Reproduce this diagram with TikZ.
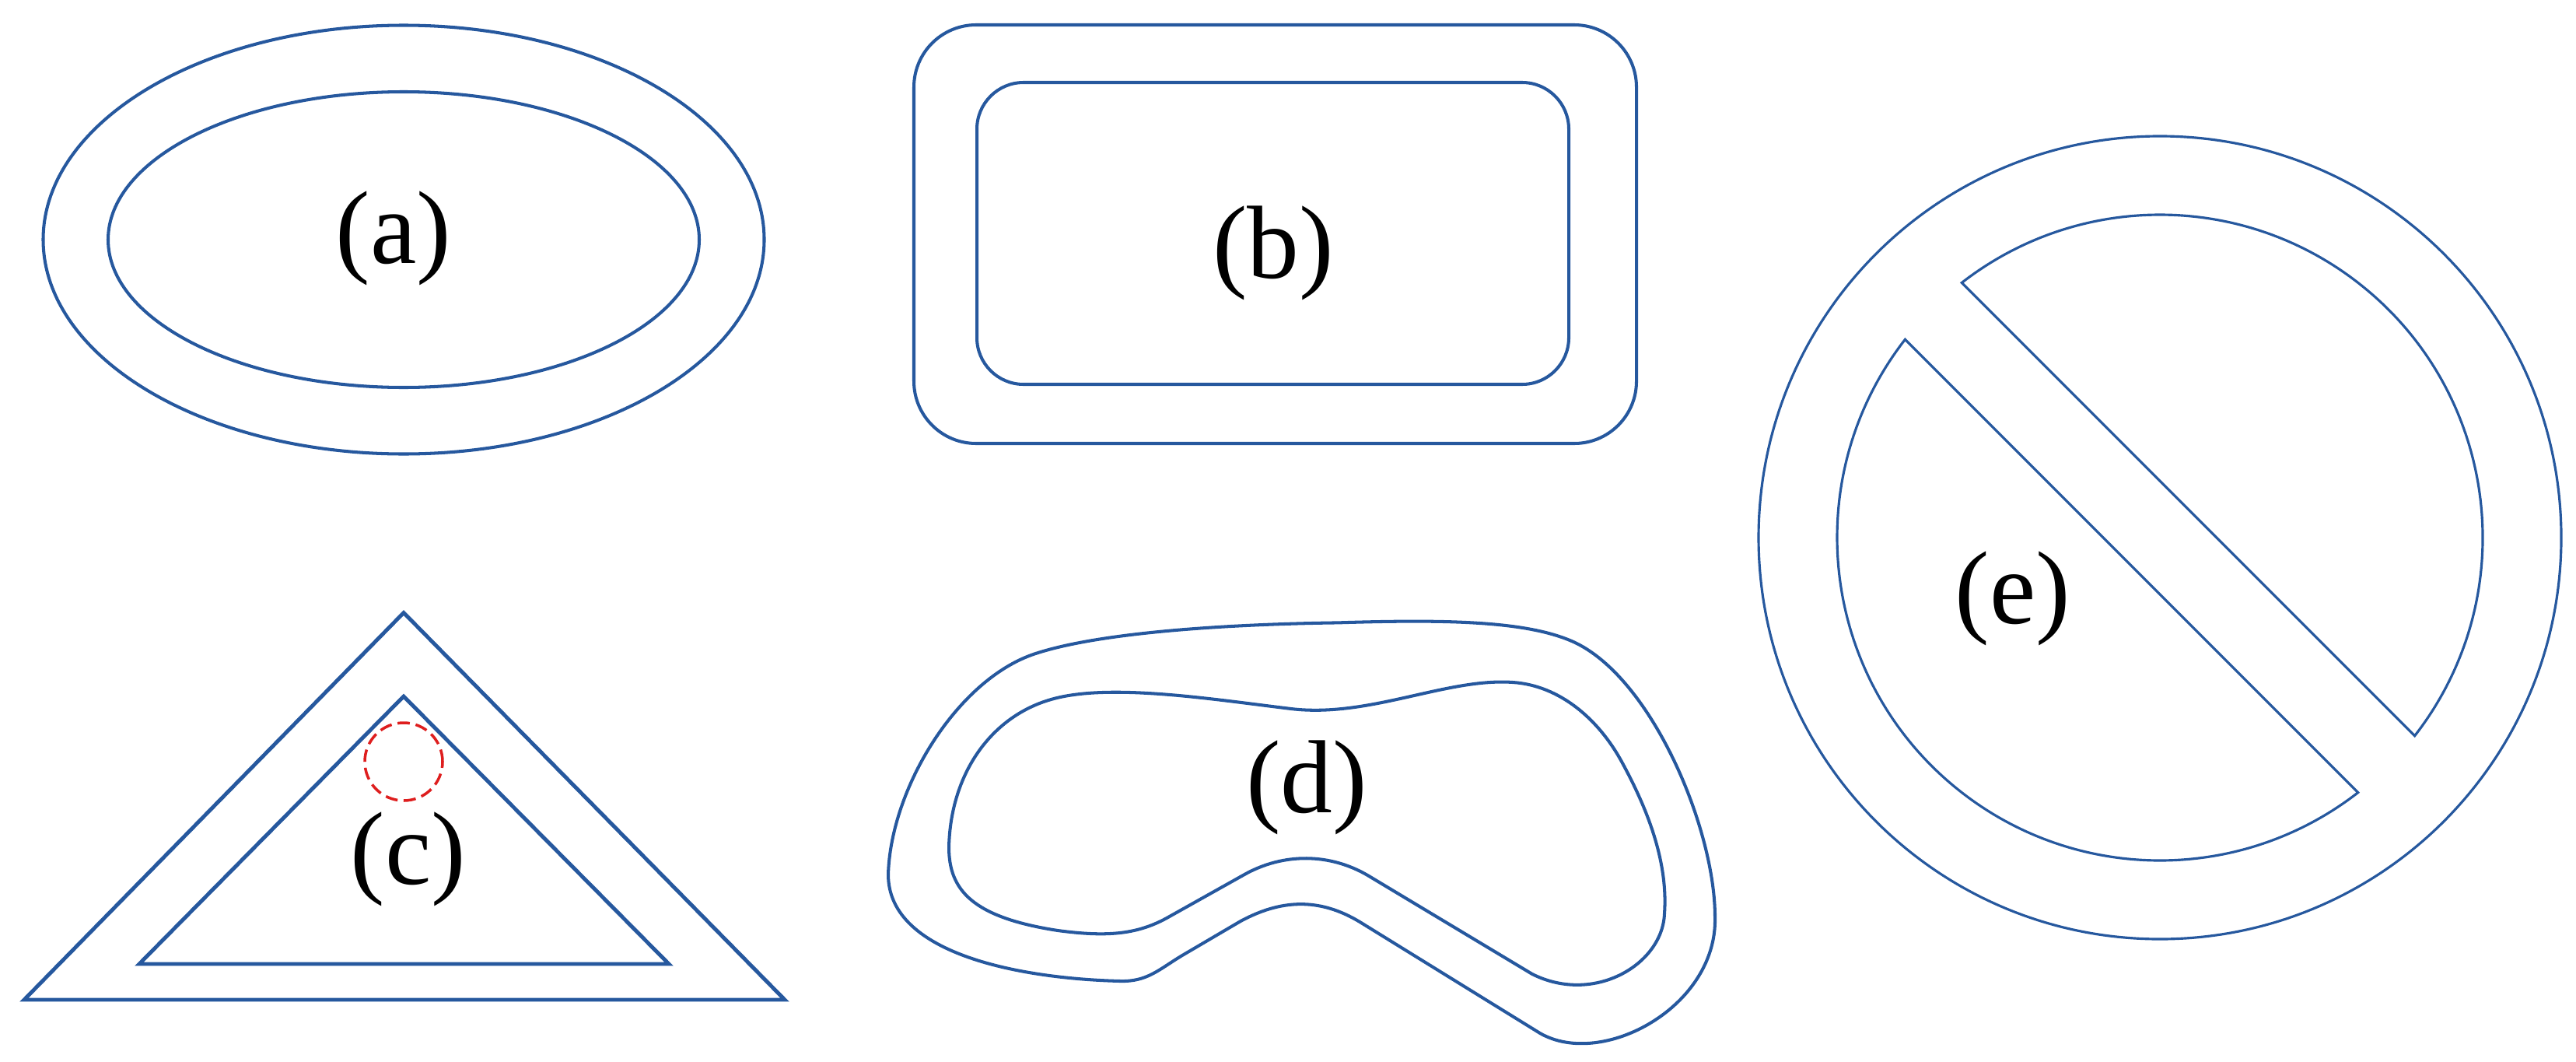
\documentclass[tikz,border=0pt]{standalone}
\usepackage{fontspec}
\setmainfont{Liberation Serif}
\usepackage{xcolor}
\usepackage{tikz}
\usetikzlibrary{positioning,calc}

\definecolor{contour}{RGB}{38,88,158}
\definecolor{rougepoint}{RGB}{222,30,30}

\begin{document}
\begin{tikzpicture}[
    trait/.style={draw=contour, line width=1.15pt, line join=round},
    traitfin/.style={draw=contour, line width=0.9pt},
    etiq/.style={font=\fontsize{38}{40}\selectfont, inner sep=0pt}
  ]
  \useasboundingbox (0,0) rectangle (33.12,13.64);

  % Forme (a) : deux ellipses
  \coordinate (ca) at (5.19,10.56);
  \draw[trait] (ca) ellipse[x radius=4.635, y radius=2.755];
  \draw[trait] (ca) ellipse[x radius=3.80, y radius=1.90];
  \node[etiq] (la) at (5.06,10.58) {(a)};

  % Forme (b) : rectangles arrondis
  \draw[trait, rounded corners=0.8cm] (11.75,7.94) rectangle (21.04,13.32);
  \draw[trait, rounded corners=0.6cm] (12.56,8.70) rectangle (20.17,12.58);
  \node[etiq] (lb) at (16.37,10.39) {(b)};

  % Forme (c) : triangles et cercle en pointilles
  \draw[trait, line width=1.4pt, line join=miter] (5.19,5.765) -- (10.09,0.79) -- (0.31,0.79) -- cycle;
  \draw[trait, line width=1.4pt, line join=miter] (5.19,4.69) -- (8.60,1.25) -- (1.79,1.25) -- cycle;
  \node[circle, draw=rougepoint, line width=1pt, dash pattern=on 4.5pt off 2.2pt,
        minimum size=1.0cm, inner sep=0pt] (cr) at (5.19,3.85) {};
  \node[etiq] (lc) at (5.25,2.60) {(c)};

  % Forme (d) : contour libre (exterieur)
  \draw[trait] (11.42,2.40) .. controls (11.45,3.50) and (12.30,4.90) .. (13.30,5.235)
    .. controls (14.20,5.535) and (16.00,5.62) .. (17.20,5.636)
    .. controls (18.60,5.68) and (19.63,5.66) .. (20.23,5.39)
    .. controls (21.23,4.935) and (22.05,3.00) .. (22.05,1.85)
    .. controls (22.08,0.70) and (20.60,-0.10) .. (19.80,0.36)
    -- (17.50,1.78)
    .. controls (16.95,2.12) and (16.45,2.07) .. (15.95,1.80)
    -- (15.20,1.36)
    .. controls (14.90,1.18) and (14.75,1.02) .. (14.40,1.03)
    .. controls (13.20,1.06) and (11.42,1.35) .. cycle;
  % Forme (d) : contour libre (interieur)
  \draw[trait] (12.20,2.75) .. controls (12.22,3.70) and (12.75,4.45) .. (13.55,4.66)
    .. controls (14.30,4.86) and (15.60,4.65) .. (16.60,4.53)
    .. controls (17.60,4.41) and (18.60,4.93) .. (19.45,4.87)
    .. controls (20.05,4.83) and (20.55,4.40) .. (20.85,3.85)
    .. controls (21.15,3.30) and (21.45,2.60) .. (21.40,1.90)
    .. controls (21.38,1.25) and (20.50,0.72) .. (19.70,1.12)
    -- (17.60,2.38)
    .. controls (17.10,2.68) and (16.50,2.68) .. (16.00,2.40)
    -- (15.00,1.84)
    .. controls (14.60,1.62) and (14.20,1.60) .. (13.60,1.68)
    .. controls (12.50,1.85) and (12.20,2.20) .. cycle;
  \node[etiq] (ld) at (16.80,3.52) {(d)};

  % Forme (e) : cercle barre
  \coordinate (ce) at (27.77,6.73);
  \draw[traitfin] (ce) circle[radius=5.16];
  \draw[traitfin] ($(ce)+(-37.87:4.15)$) arc[start angle=-37.87, end angle=127.87, radius=4.15] -- cycle;
  \draw[traitfin] ($(ce)+(142.13:4.15)$) arc[start angle=142.13, end angle=307.87, radius=4.15] -- cycle;
  \node[etiq] (le) at (25.88,5.95) {(e)};
\end{tikzpicture}
\end{document}
